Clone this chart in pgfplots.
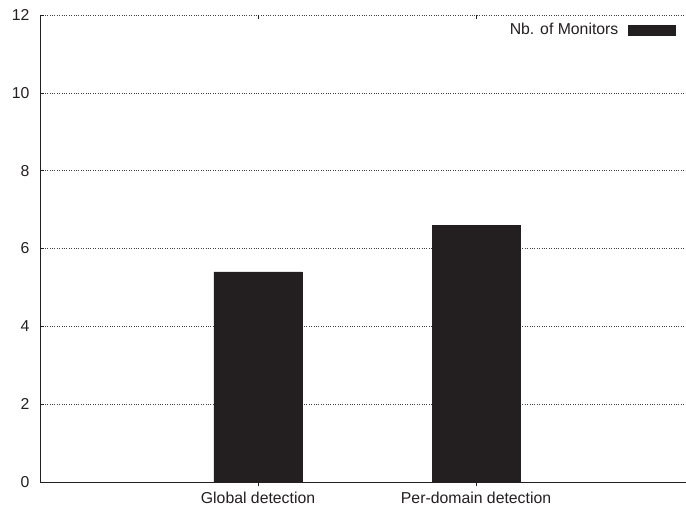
\documentclass[border=0pt]{standalone}
\usepackage{fontspec}
\setmainfont{Liberation Sans}
\usepackage{pgfplots}
\pgfplotsset{compat=1.18}
\definecolor{barcol}{HTML}{231F20}
\definecolor{txtcol}{HTML}{231F20}
\begin{document}
\fontsize{15.8pt}{18pt}\selectfont
\begin{tikzpicture}[x=1pt,y=1pt]
\useasboundingbox (0,0) rectangle (686,509);
\begin{axis}[
  at={(40pt,27pt)}, anchor=origin,
  scale only axis, width=646pt, height=467pt,
  xmin=0, xmax=2.963, ymin=0, ymax=12,
  axis x line*=bottom, axis y line*=left,
  axis line style={barcol, line width=0.9pt, -},
  xtick={1,2}, xticklabels={Global detection, Per-domain detection},
  ytick={0,2,...,12},
  tick align=inside, major tick length=4pt,
  tick style={barcol, line width=0.6pt},
  ymajorgrids, grid style={dotted, black!75, line width=0.5pt},
  /pgf/number format/assume math mode=true,
  ticklabel style={font=\fontsize{15.8pt}{18pt}\selectfont, text=txtcol},
  xticklabel style={yshift=-1pt},
  yticklabel style={xshift=-5pt},
  ybar, bar width=0.404,
  legend plot pos=right,
  legend style={draw=none, fill=none, at={(rel axis cs:0.9845,0.968)}, anchor=east,
    font=\fontsize{15.8pt}{18pt}\selectfont, text=txtcol, inner sep=0pt,
    nodes={inner sep=0pt}},
  legend image code/.code={\path (0pt,0pt); \fill[barcol] (10pt,-5pt) rectangle (57pt,5pt);},
  clip=false,
]
\addplot[fill=barcol, draw=barcol] coordinates {(1,5.4) (2,6.6)};
\addlegendentry{Nb. of Monitors}
\draw[barcol, line width=0.6pt] (axis cs:1,12) -- ++(0,-4pt);
\draw[barcol, line width=0.6pt] (axis cs:2,12) -- ++(0,-4pt);
\end{axis}
\end{tikzpicture}
\end{document}
